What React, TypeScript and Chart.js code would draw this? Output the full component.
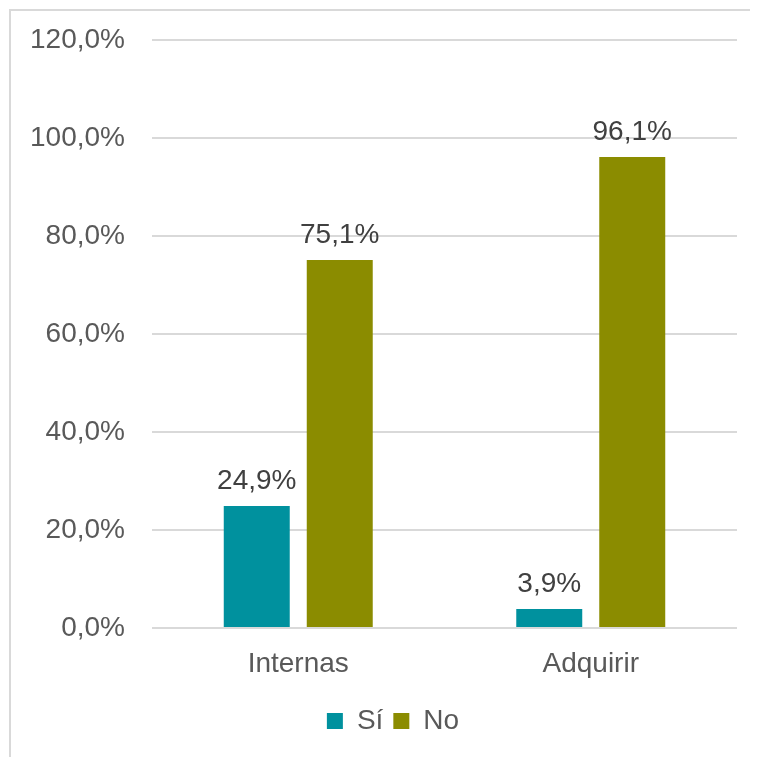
import React, { useEffect, useRef } from "react";
import { Chart, registerables } from "chart.js";

Chart.register(...registerables);

const categories = ["Internas", "Adquirir"];
const seriesNames = ["Sí", "No"];
const siValues = [24.9, 3.9];
const noValues = [75.1, 96.1];
const seriesColors = ["#00919E", "#8B8C00"];
const yTicks = [0, 20, 40, 60, 80, 100, 120];

const fmt = (v: number) => v.toFixed(1).replace(".", ",") + "%";

const dataLabelPlugin = {
  id: "dataLabels",
  afterDatasetsDraw(chart: any) {
    const ctx = chart.ctx;
    ctx.save();
    ctx.font = "28px 'Liberation Sans', Arial, sans-serif";
    ctx.fillStyle = "#404040";
    ctx.textAlign = "center";
    ctx.textBaseline = "alphabetic";
    chart.data.datasets.forEach((ds: any, i: number) => {
      const meta = chart.getDatasetMeta(i);
      meta.data.forEach((bar: any, j: number) => {
        ctx.fillText(fmt(ds.data[j]), bar.x, bar.y - 17);
      });
    });
    ctx.restore();
  },
};

const legendShiftPlugin = {
  id: "legendShift",
  afterLayout(chart: any) {
    const lg = chart.legend;
    if (lg) {
      lg.left += 19;
      lg.right += 19;
    }
  },
};

export default function App() {
  const ref = useRef<HTMLCanvasElement | null>(null);
  useEffect(() => {
    document.documentElement.style.overflow = "hidden";
    if (!ref.current) return;
    const font = { family: "'Liberation Sans', Arial, sans-serif", size: 28 };
    const chart = new Chart(ref.current, {
      type: "bar",
      data: {
        labels: categories,
        datasets: [
          {
            label: seriesNames[0],
            data: siValues,
            backgroundColor: seriesColors[0],
            categoryPercentage: 0.5675,
            barPercentage: 0.795,
          },
          {
            label: seriesNames[1],
            data: noValues,
            backgroundColor: seriesColors[1],
            categoryPercentage: 0.5675,
            barPercentage: 0.795,
          },
        ],
      },
      options: {
        animation: false,
        responsive: false,
        maintainAspectRatio: false,
        layout: { padding: { top: 29, right: 21, bottom: 12, left: 0 } },
        plugins: {
          tooltip: { enabled: false },
          legend: {
            position: "bottom",
            labels: {
              font,
              color: "#595959",
              boxWidth: 16,
              boxHeight: 16,
              padding: 10,
            },
          },
        },
        scales: {
          x: {
            grid: { display: false, drawTicks: false },
            border: { display: false },
            ticks: { font, color: "#595959", padding: 19 },
            afterFit: (s: any) => {
              s.height = 69;
            },
          },
          y: {
            min: 0,
            max: 120,
            afterBuildTicks: (s: any) => {
              s.ticks = yTicks.map((v) => ({ value: v }));
            },
            grid: { color: "#D9D9D9", lineWidth: 2, drawTicks: false },
            border: { display: false },
            ticks: {
              font,
              color: "#595959",
              padding: 27,
              callback: (v: any) => fmt(Number(v)),
            },
            afterFit: (s: any) => {
              s.width = 141;
              s.paddingTop = 0;
              s.paddingBottom = 0;
            },
          },
        },
      },
      plugins: [dataLabelPlugin, legendShiftPlugin],
    });
    return () => chart.destroy();
  }, []);
  return (
    <div
      style={{
        position: "relative",
        left: 1,
        top: 1,
        width: 760,
        height: 760,
        boxSizing: "border-box",
        borderLeft: "2px solid #D9D9D9",
        borderTop: "2px solid #D9D9D9",
        background: "#fff",
      }}
    >
      <canvas ref={ref} width={747} height={746} style={{ display: "block", width: 747, height: 746 }} />
    </div>
  );
}
